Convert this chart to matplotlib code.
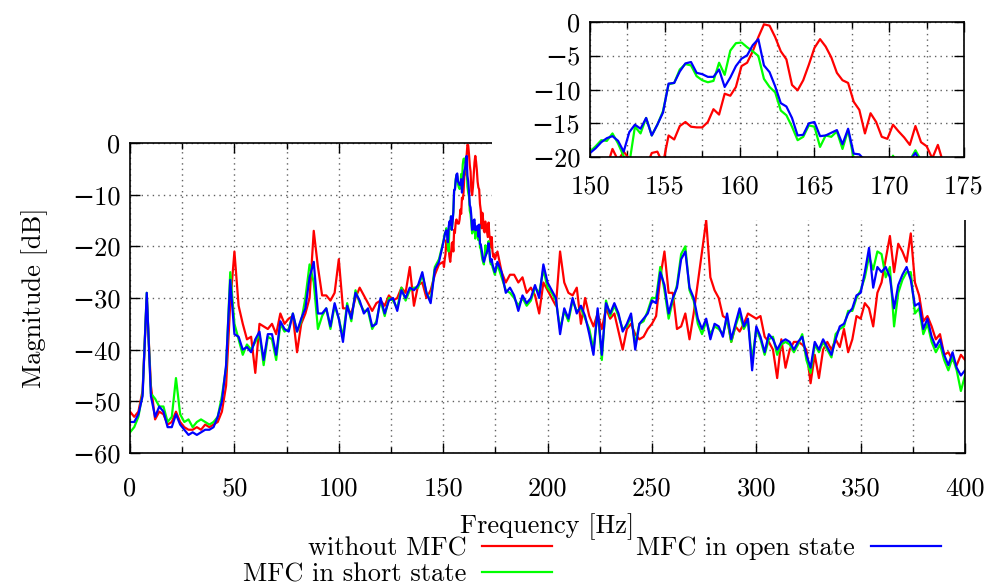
import numpy as np
import matplotlib
matplotlib.use("Agg")
import matplotlib.pyplot as plt
from matplotlib.patches import Rectangle
from matplotlib.ticker import MultipleLocator

plt.rcParams["font.family"] = ["cmr10", "DejaVu Serif"]
plt.rcParams["axes.formatter.use_mathtext"] = False
plt.rcParams["font.size"] = 19

RED = "#ff0000"
GREEN = "#00ff00"
BLUE = "#0000ff"
GRIDC = "#606060"

# ---- main spectrum, 0..400 Hz, 2 Hz step ----
freq = np.arange(0, 401, 2)

mag_open = [
    -54, -54, -52.5, -49, -29, -49, -53, -51, -52, -55,
    -55, -52.5, -54.5, -55.5, -56.5, -56, -56.5, -56, -55.5, -55.5,
    -55, -53, -50, -43, -26.5, -37, -37.5, -40, -39.5, -40.5,
    -38, -36.5, -42, -37, -37, -41, -34.5, -36, -36.5, -33,
    -36.5, -34, -32, -26, -23, -33, -33, -32, -35.5, -31,
    -34, -38.5, -31.5, -34, -29, -30.5, -33, -32, -35.5, -35,
    -30, -33, -30.5, -30, -32.5, -28.5, -30, -28, -28.5, -27.5,
    -25, -29, -31, -24.5, -23, -18.5, -17, -14.5, -7.5, -8.4,
    -5.7, -7.6, -17.2, -16.5, -19.5, -23, -21, -24, -23, -25,
    -29, -28, -29.5, -32.5, -29.5, -31, -30, -27.5, -30, -23.5,
    -27, -28.5, -30, -37, -32, -34, -30, -33, -31.5, -33.5,
    -37, -41, -32, -41, -31, -33, -31, -33, -36.5, -35,
    -33, -40, -35, -34, -33, -30.5, -31, -25, -27.5, -33,
    -30, -28, -22.5, -21, -28, -30, -34, -36, -34, -38,
    -35, -35.5, -37.5, -33, -38, -35, -32, -35.5, -34, -44,
    -35.5, -37.5, -40.5, -37, -38, -40, -38.5, -38, -38.5, -40,
    -38.5, -37.5, -41, -43.5, -38.5, -40, -38, -39.5, -41, -38,
    -35.5, -35, -33, -32, -29.5, -29, -25, -20.3, -28, -24,
    -25, -24, -26, -32, -27.5, -25.5, -24, -26.5, -31.5, -31,
    -36, -34, -37.5, -39.5, -38, -41, -43, -40.5, -43.5, -45,
    -44,
]

mag_short = [
    -56, -55, -53, -48.5, -29, -48.5, -49.5, -51, -51, -54,
    -53, -45.5, -52.5, -54, -53.5, -55, -54, -53.5, -54, -54.5,
    -54, -53, -49, -43.5, -25, -35, -38, -41, -39, -40,
    -38.5, -37, -43, -37.5, -38, -42, -35, -36.5, -36, -33,
    -36.5, -34.5, -30, -23.5, -27, -36, -33.5, -32, -36, -31.5,
    -34, -37.5, -31, -34.5, -28.5, -31, -32.5, -32.5, -36, -34.5,
    -30.5, -33.5, -30, -30.5, -32, -28, -30.5, -28.5, -28, -28,
    -25.5, -29, -30.5, -24, -22.5, -18, -19, -14, -7, -8.9,
    -2.7, -9.8, -17.7, -18.5, -20, -23.5, -20.5, -24.5, -23.5, -26,
    -28.5, -29, -30, -31.5, -30, -31.5, -30.5, -28, -29, -24.5,
    -28, -29, -30.5, -36, -32.5, -34.5, -30.5, -32.5, -32, -34,
    -36, -40, -32.5, -42, -30.5, -33.5, -31.5, -33.5, -36, -35.5,
    -33.5, -39, -35, -34.5, -32.5, -30, -30, -24, -28.5, -34,
    -30.5, -27.5, -21.5, -20, -28.5, -30.5, -35, -37, -34.5, -37,
    -35.5, -36, -37, -34, -38.5, -35.5, -33, -36, -34.5, -42,
    -36, -38, -41, -38, -37.5, -41, -39, -38.5, -39, -40.5,
    -39, -37, -42, -44.5, -39, -40.5, -38.5, -40, -41.5, -37,
    -36, -35.5, -32.5, -32.5, -30, -28.5, -26, -22, -24.5, -21,
    -21.5, -26, -24, -35.5, -29, -26.5, -25, -25, -33, -32,
    -37, -35, -38.5, -40.5, -39, -42, -44, -41.5, -44, -48,
    -45,
]

mag_without = [
    -52, -53, -52, -48, -30, -47, -53.5, -52, -52.5, -54.5,
    -54, -52, -54, -55, -55.5, -55.5, -55, -55.5, -54.5, -55,
    -54.5, -54, -52, -47, -31, -21, -31.5, -35, -38, -37.5,
    -44.5, -35, -35.5, -36, -35, -37, -33, -35, -34, -33.5,
    -40.5, -35, -33, -30, -17, -24, -29.5, -29.5, -30.5, -29,
    -22.5, -32, -32, -33, -30, -28, -29.5, -31, -32.5, -31,
    -30.5, -31.5, -29.5, -30.5, -30, -28, -29, -24, -31.5, -27.5,
    -27, -30, -28.5, -25.5, -23.5, -21, -22, -21, -15, -13,
    -6.5, -0.6, -9.8, -5, -13.5, -15.5, -17.5, -20, -21, -25,
    -27, -25.5, -25.5, -27, -26, -29, -28, -29.5, -33, -27,
    -28.5, -30, -31.5, -21, -27, -29, -29.5, -28, -35, -30,
    -33.5, -35.5, -33, -36, -32, -34, -33, -36.5, -40, -36,
    -35, -37, -38, -37.5, -36, -35, -33.5, -26, -21, -29,
    -29, -36, -35.5, -33, -38, -33, -27, -21, -15, -26,
    -28.5, -30, -33.5, -34, -38.5, -35.5, -36.5, -35, -33, -33.5,
    -34, -33.5, -37.5, -38.5, -40, -45.5, -38, -43.5, -40, -38.5,
    -38.5, -39, -40, -46.5, -41, -45.5, -40, -38.5, -40, -38,
    -39.5, -36, -40.5, -38, -33.5, -34, -31, -32, -35.5, -29,
    -27, -22.5, -18, -25, -19.5, -21, -23, -17.5, -27, -29.5,
    -34.5, -33.5, -35.5, -38, -37, -41, -40.5, -42, -43, -41,
    -42,
]

# ---- zoomed band, 150..175 Hz ----
freq_zoom = np.arange(150, 175, 0.375)

zoom_open = [
    -19.4, -18.7, -17.8, -17.2, -16.9, -17.6, -19.2, -16.3,
    -15.2, -15.8, -14.2, -16.8, -15.2, -13.4, -9.1, -9.0,
    -7.3, -6.1, -5.9, -7.5, -7.7, -8.1, -8.1, -7.0,
    -9.6, -8.2, -6.5, -5.4, -4.9, -3.4, -2.5, -6.4,
    -7.4, -9.5, -12.0, -12.5, -14.2, -16.8, -16.7, -15.0,
    -14.8, -16.9, -16.8, -16.4, -16.0, -18.1, -15.8, -19.5,
    -19.6, -20.5, -21.5, -22.5, -23.0, -22.5, -22.0, -21.5,
    -21.0, -20.5, -19.4, -21.0, -22.5, -23.0, -22.5, -23.5,
    -24.0, -24.5, -25.0,
]

zoom_short = [
    -19.2, -18.4, -17.5, -17.6, -16.5, -18.0, -19.9, -21.0,
    -15.5, -16.5, -14.2, -16.8, -15.2, -13.2, -9.2, -9.0,
    -7.0, -6.2, -6.4, -8.0, -8.6, -8.9, -8.7, -6.0,
    -7.8, -4.2, -3.1, -3.0, -3.7, -4.3, -5.0, -8.4,
    -9.6, -10.4, -13.1, -13.8, -15.5, -17.5, -17.0, -15.3,
    -15.5, -18.5, -16.8, -17.0, -16.2, -18.8, -16.0, -20.2,
    -20.5, -21.5, -22.5, -23.0, -23.5, -22.0, -19.8, -21.5,
    -21.0, -20.5, -19.0, -20.5, -23.0, -23.5, -23.0, -24.0,
    -24.5, -25.0, -25.5,
]

zoom_without = [
    -23.0, -24.0, -22.5, -21.5, -18.8, -20.5, -19.2, -20.3,
    -22.0, -23.0, -21.5, -19.4, -19.2, -21.0, -16.8, -17.4,
    -15.4, -14.8, -15.5, -15.6, -15.6, -14.8, -12.9, -13.7,
    -10.6, -10.9, -9.6, -6.5, -6.0, -4.3, -2.2, -0.3,
    -0.5, -2.2, -4.3, -5.5, -9.3, -10.1, -8.6, -6.3,
    -3.8, -2.5, -3.6, -5.2, -7.5, -8.6, -9.0, -11.8,
    -13.0, -16.5, -13.5, -14.8, -17.0, -17.3, -15.2, -16.2,
    -17.1, -18.2, -15.4, -17.8, -18.4, -20.2, -18.2, -21.0,
    -22.0, -21.5, -22.5,
]

series = [
    ("without MFC", mag_without, zoom_without, RED),
    ("MFC in short state", mag_short, zoom_short, GREEN),
    ("MFC in open state", mag_open, zoom_open, BLUE),
]


def merged(coarse, fine):
    # use the finer 150-175 Hz samples inside the main plot as well
    coarse = np.asarray(coarse, dtype=float)
    keep = (freq < 150) | (freq >= 175)
    f = np.concatenate([freq[keep], freq_zoom])
    v = np.concatenate([coarse[keep], np.asarray(fine, dtype=float)])
    order = np.argsort(f)
    return f[order], v[order]


def style_axes(ax):
    ax.tick_params(which="both", direction="in", top=True, right=True,
                   colors="black", width=1.0)
    ax.tick_params(which="major", length=7, pad=7)
    ax.tick_params(which="minor", length=4)
    ax.grid(True, which="major", color=GRIDC, linestyle=(0, (1, 3)), linewidth=1.0)
    ax.grid(True, which="minor", axis="x", color=GRIDC, linestyle=(0, (1, 3)), linewidth=1.0)
    for s in ax.spines.values():
        s.set_linewidth(1.2)
        s.set_color("black")


fig = plt.figure(figsize=(9.95, 5.87), dpi=100)

ax = fig.add_axes([0.1307, 0.2283, 0.8392, 0.5281])
handles = []
for name, coarse, fine, col in series:
    f, v = merged(coarse, fine)
    (ln,) = ax.plot(f, v, color=col, linewidth=1.6, label=name)
    handles.append(ln)
ax.set_xlim(0, 400)
ax.set_ylim(-60, 0)
ax.xaxis.set_major_locator(MultipleLocator(50))
ax.xaxis.set_minor_locator(MultipleLocator(25))
ax.yaxis.set_major_locator(MultipleLocator(10))
style_axes(ax)
ax.tick_params(axis="x", which="major", pad=17)
ax.set_xlabel("Frequency [Hz]", labelpad=9)
ax.set_ylabel("Magnitude [dB]", labelpad=17)

# white box behind the zoomed view
fig.add_artist(Rectangle((492 / 995, 1 - 220 / 587), 1, 1, transform=fig.transFigure,
                         facecolor="white", edgecolor="none", zorder=1))

axin = fig.add_axes([0.593, 0.7325, 0.3759, 0.2295], zorder=2)
for name, coarse, fine, col in series:
    axin.plot(freq_zoom, fine, color=col, linewidth=1.6)
axin.set_xlim(150, 175)
axin.set_ylim(-20, 0)
axin.xaxis.set_major_locator(MultipleLocator(5))
axin.xaxis.set_minor_locator(MultipleLocator(2.5))
axin.yaxis.set_major_locator(MultipleLocator(5))
style_axes(axin)
axin.tick_params(axis="x", which="major", pad=12.5)

fig.legend(handles, [h.get_label() for h in handles], ncol=2, markerfirst=False,
           frameon=False, loc="upper left", bbox_to_anchor=(0.244, 0.086),
           handlelength=2.65, handletextpad=0.6, columnspacing=3.2,
           labelspacing=0.1, borderpad=0, borderaxespad=0)

fig.savefig("out.png", dpi=100)
